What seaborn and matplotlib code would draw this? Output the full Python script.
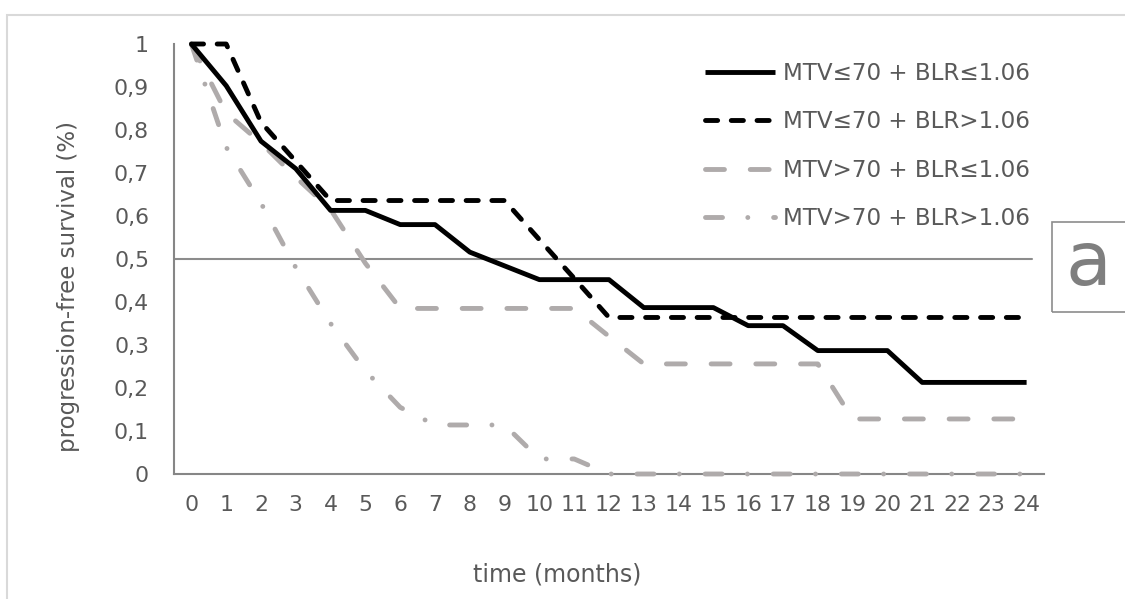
import numpy as np
import pandas as pd
import matplotlib
matplotlib.use("Agg")
import matplotlib.pyplot as plt
import seaborn as sns
from matplotlib.patches import Rectangle
from matplotlib.lines import Line2D

# ---------------- data ----------------
months = list(range(25))
group_names = ["MTV≤70 + BLR≤1.06", "MTV≤70 + BLR>1.06",
               "MTV>70 + BLR≤1.06", "MTV>70 + BLR>1.06"]
pfs_low_mtv_low_blr = [1.0, 0.903, 0.774, 0.71, 0.613, 0.613, 0.58, 0.58, 0.516, 0.484,
                       0.452, 0.452, 0.452, 0.387, 0.387, 0.387, 0.345, 0.345, 0.287, 0.287,
                       0.287, 0.213, 0.213, 0.213, 0.213]
pfs_low_mtv_high_blr = [1.0, 1.0, 0.818, 0.727, 0.636, 0.636, 0.636, 0.636, 0.636, 0.636,
                        0.545, 0.455, 0.364, 0.364, 0.364, 0.364, 0.364, 0.364, 0.364, 0.364,
                        0.364, 0.364, 0.364, 0.364, 0.364]
pfs_high_mtv_low_blr = [1.0, 0.84, 0.77, 0.69, 0.615, 0.49, 0.385, 0.385, 0.385, 0.385,
                        0.385, 0.385, 0.32, 0.256, 0.256, 0.256, 0.256, 0.256, 0.256, 0.128,
                        0.128, 0.128, 0.128, 0.128, 0.128]
pfs_high_mtv_high_blr = [1.0, 0.76, 0.63, 0.48, 0.35, 0.24, 0.155, 0.114, 0.114, 0.114,
                         0.035, 0.035, 0.0, 0.0, 0.0, 0.0, 0.0, 0.0, 0.0, 0.0,
                         0.0, 0.0, 0.0, 0.0, 0.0]
y_ticks = [0, 0.1, 0.2, 0.3, 0.4, 0.5, 0.6, 0.7, 0.8, 0.9, 1.0]
y_tick_labels = ["0", "0,1", "0,2", "0,3", "0,4", "0,5", "0,6", "0,7", "0,8", "0,9", "1"]
x_tick_labels = [str(m) for m in months]
reference_level = 0.5

series = [pfs_low_mtv_low_blr, pfs_low_mtv_high_blr, pfs_high_mtv_low_blr, pfs_high_mtv_high_blr]
df = pd.concat([pd.DataFrame({"month": months, "pfs": vals, "group": name})
                for name, vals in zip(group_names, series)], ignore_index=True)

# ---------------- styles ----------------
BLACK = "#000000"
GRAY = "#AFABAB"
TEXT = "#595959"
AXIS = "#868686"
LW = 3.5
palette = {group_names[0]: BLACK, group_names[1]: BLACK,
           group_names[2]: GRAY, group_names[3]: GRAY}
dash_map = {group_names[0]: "",
            group_names[1]: (2.5, 2.8),
            group_names[2]: (3.9, 5.3),
            group_names[3]: (3.5, 5.2, 0.01, 5.3)}
draw_order = [group_names[3], group_names[2], group_names[0], group_names[1]]

sns.set_style("white")
plt.rcParams["font.family"] = ["DejaVu Sans"]

fig = plt.figure(figsize=(11.25, 5.99), dpi=100)
ax = fig.add_axes([174 / 1125, 1 - 474 / 599, 870 / 1125, 430 / 599])

# outer chart frame and "a" panel box
fig.patches.append(Rectangle((7 / 1125, -0.1), 1.2, 1.075, transform=fig.transFigure,
                             fill=False, edgecolor="#D9D9D9", lw=1.5))
fig.patches.append(Rectangle((1052 / 1125, 1 - 312 / 599), 0.2, 90 / 599,
                             transform=fig.transFigure, fill=False,
                             edgecolor="#8C8C8C", lw=1.2))
fig.text(1088 / 1125, 1 - 285 / 599, "a", fontsize=54, color="#7F7F7F",
         ha="center", va="baseline")

# 0.5 reference line
ax.axhline(reference_level, xmin=0, xmax=0.986, color="#8C8C8C", lw=1.5, zorder=1)

n0 = len(ax.lines)
sns.lineplot(data=df, x="month", y="pfs", hue="group", style="group",
             hue_order=draw_order, style_order=draw_order,
             palette=palette, dashes=dash_map, linewidth=LW,
             legend=False, ax=ax, errorbar=None)
for ln in ax.lines[n0:]:
    ln.set_dash_capstyle("round")
    ln.set_solid_capstyle("butt")
    ln.set_solid_joinstyle("round")
    ln.set_dash_joinstyle("round")
    ln.set_clip_on(False)
    ln.set_zorder(3)

ax.set_xlim(-0.5, 24.5)
ax.set_ylim(0, 1)

ax.set_xticks(np.arange(-0.5, 25, 1))
ax.set_xticklabels([])
ax.set_xticks(months, minor=True)
ax.set_xticklabels(x_tick_labels, minor=True)
ax.tick_params(axis="x", which="major", direction="in", length=6, width=1.5, color=AXIS)
ax.tick_params(axis="x", which="minor", length=0, pad=15, labelsize=15.8, labelcolor=TEXT)
ax.set_yticks(y_ticks)
ax.set_yticklabels(y_tick_labels)
ax.tick_params(axis="y", direction="in", length=6, width=1.5, color=AXIS,
               pad=18, labelsize=15.8, labelcolor=TEXT)

sns.despine(ax=ax)
for side in ["left", "bottom"]:
    ax.spines[side].set_color(AXIS)
    ax.spines[side].set_linewidth(1.5)

ax.set_xlabel("time (months)", fontsize=17, color=TEXT)
ax.xaxis.set_label_coords(0.441, -0.205)
ax.set_ylabel("progression-free survival (%)", fontsize=16.5, color=TEXT)
ax.yaxis.set_label_coords(-0.108, 0.435)

handles = []
for name in group_names:
    d = dash_map[name]
    h = Line2D([], [], color=palette[name], lw=LW, dash_capstyle="round",
               solid_capstyle="butt")
    if d:
        h.set_dashes(d)
    handles.append(h)
ax.legend(handles, group_names, loc="upper left",
          bbox_to_anchor=(705 / 1125, 1 - 62 / 599), bbox_transform=fig.transFigure,
          frameon=False, fontsize=16.6, handlelength=3.04, handletextpad=0.35,
          labelspacing=1.10, borderpad=0, borderaxespad=0, labelcolor=TEXT)

fig.savefig("out.png", dpi=100)
